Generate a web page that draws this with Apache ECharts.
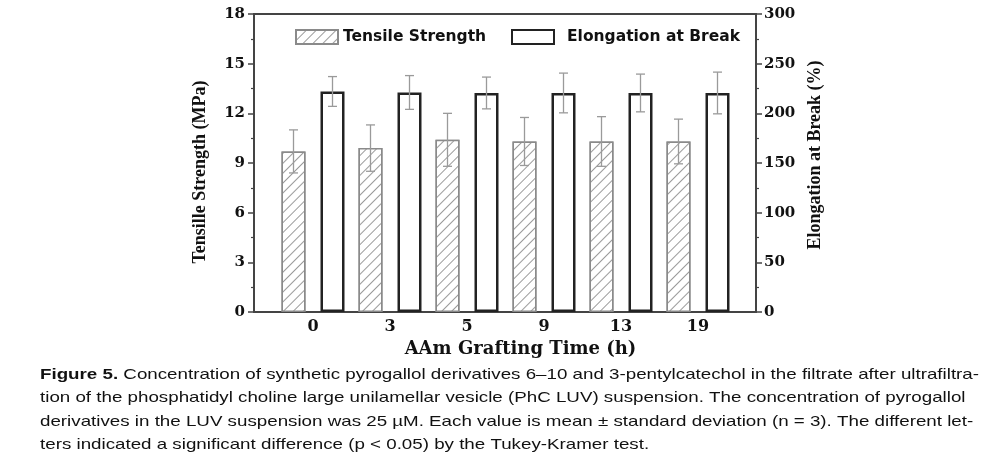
<!DOCTYPE html>
<html><head><meta charset="utf-8">
<script src="https://cdn.jsdelivr.net/npm/echarts@6/dist/echarts.min.js"></script>
<style>html,body{margin:0;padding:0;background:#fff}#c{width:999px;height:466px}</style>
</head><body><div id="c"></div>
<script>
const categories = ['0', '3', '5', '9', '13', '19'];
const tensileStrength = [9.7, 9.9, 10.4, 10.3, 10.3, 10.3];
const tensileError = [1.3, 1.4, 1.6, 1.45, 1.5, 1.35];
const elongation = [222, 221, 220.5, 220.5, 220.5, 220.5];
const elongationError = [15, 17, 16, 20, 19, 21];
const seriesNames = ['Tensile Strength', 'Elongation at Break'];
const captionLabel = 'Figure 5.';
const captionLines = [
  'Concentration of synthetic pyrogallol derivatives 6\u201310 and 3-pentylcatechol in the filtrate after ultrafiltra-',
  'tion of the phosphatidyl choline large unilamellar vesicle (PhC LUV) suspension. The concentration of pyrogallol',
  'derivatives in the LUV suspension was 25 \u00b5M. Each value is mean \u00b1 standard deviation (n = 3). The different let-',
  'ters indicated a significant difference (p < 0.05) by the Tukey-Kramer test.'
];

const serif = '"Liberation Serif", "Times New Roman", serif';
const wideSerif = '"DejaVu Serif", serif';
const wideSans = '"DejaVu Sans", sans-serif';
const sans = '"Liberation Sans", Arial, sans-serif';
const axisColor = '#444';

function errItem(offset) {
  return function (params, api) {
    const i = api.value(0), v = api.value(1), e = api.value(2);
    const c = api.coord([i, v]);
    const top = api.coord([i, v + e])[1];
    const bot = api.coord([i, v - e])[1];
    const x = c[0] + offset;
    const st = { stroke: '#9a9a9a', lineWidth: 1.3 };
    return {
      type: 'group',
      children: [
        { type: 'line', shape: { x1: x, y1: top, x2: x, y2: bot }, style: st },
        { type: 'line', shape: { x1: x - 4.5, y1: top, x2: x + 4.5, y2: top }, style: st },
        { type: 'line', shape: { x1: x - 4.5, y1: bot, x2: x + 4.5, y2: bot }, style: st }
      ]
    };
  };
}

const captionGraphics = captionLines.map(function (t, k) {
  return {
    type: 'text',
    x: 40, y: 375 + k * 23.2,
    scaleX: 1.25, scaleY: 1,
    silent: true,
    style: {
      text: k === 0 ? '{b|' + captionLabel + '} ' + t : t,
      fontFamily: sans, fontSize: 15, fill: '#111',
      align: 'left', verticalAlign: 'middle',
      rich: { b: { fontWeight: 'bold', fontSize: 15, fontFamily: sans, fill: '#111' } }
    }
  };
});

const chart = echarts.init(document.getElementById('c'), null, { renderer: 'canvas' });

const legendBase = {
  padding: 0, icon: 'rect', top: 29,
  itemWidth: 42, itemHeight: 14,
  textStyle: { fontFamily: wideSans, fontWeight: 'bold', fontSize: 15.5, color: '#111' }
};

chart.setOption({
  animation: false,
  backgroundColor: '#fff',
  grid: [
    { left: 254, top: 14, width: 502, height: 298, show: true, borderColor: axisColor, borderWidth: 2, backgroundColor: 'transparent' },
    { left: 274.5, top: 14, width: 462, height: 298 }
  ],
  legend: [
    Object.assign({}, legendBase, { data: [seriesNames[0]], left: 295 }),
    Object.assign({}, legendBase, { data: [seriesNames[1]], left: 511, itemGap: 0,
      textStyle: Object.assign({}, legendBase.textStyle, { padding: [0, 0, 0, 8] }) })
  ],
  xAxis: [
    { gridIndex: 0, type: 'value', min: 0, max: 1, show: false },
    {
      gridIndex: 1, type: 'category', data: categories,
      axisLine: { show: false }, axisTick: { show: false }, splitLine: { show: false },
      axisLabel: { margin: 7, fontFamily: wideSerif, fontWeight: 'bold', fontSize: 16, color: '#111' },
      name: 'AAm Grafting Time (h)', nameLocation: 'middle', nameGap: 27,
      nameTextStyle: { fontFamily: wideSerif, fontWeight: 'bold', fontSize: 18, color: '#111', padding: [0, 0, 0, 30] }
    }
  ],
  yAxis: [
    {
      gridIndex: 0, type: 'value', position: 'left', min: 0, max: 18, interval: 3,
      axisLine: { show: true, lineStyle: { color: axisColor, width: 2 } },
      axisTick: { show: true, length: 6, lineStyle: { color: axisColor, width: 1.5 } },
      minorTick: { show: true, splitNumber: 2, length: 3, lineStyle: { color: axisColor, width: 1.2 } },
      splitLine: { show: false },
      axisLabel: { margin: 9, fontFamily: wideSerif, fontWeight: 'bold', fontSize: 15, color: '#111' },
      name: 'Tensille Strength (MPa)', nameLocation: 'middle', nameRotate: 90, nameGap: 45,
      nameTextStyle: { fontFamily: serif, fontWeight: 'bold', fontSize: 18, color: '#111', padding: [0, 18, 0, 0] }
    },
    {
      gridIndex: 0, type: 'value', position: 'right', min: 0, max: 300, interval: 50,
      axisLine: { show: true, lineStyle: { color: axisColor, width: 2 } },
      axisTick: { show: true, length: 6, lineStyle: { color: axisColor, width: 1.5 } },
      minorTick: { show: true, splitNumber: 2, length: 3, lineStyle: { color: axisColor, width: 1.2 } },
      splitLine: { show: false },
      axisLabel: { margin: 8, fontFamily: wideSerif, fontWeight: 'bold', fontSize: 15, color: '#111' },
      name: 'Elongation at Break (%)', nameLocation: 'middle', nameRotate: 90, nameGap: 40,
      nameTextStyle: { fontFamily: serif, fontWeight: 'bold', fontSize: 18, color: '#111', padding: [0, 0, 0, 16] }
    },
    { gridIndex: 1, type: 'value', min: 0, max: 18, show: false, splitLine: { show: false } },
    { gridIndex: 1, type: 'value', min: 0, max: 300, show: false, splitLine: { show: false } }
  ],
  series: [
    {
      name: seriesNames[0], type: 'bar', xAxisIndex: 1, yAxisIndex: 2,
      data: tensileStrength, barWidth: 24, barGap: '62.5%',
      itemStyle: {
        color: '#fff', borderColor: '#8a8a8a', borderWidth: 1.5,
        decal: { symbol: 'rect', symbolSize: 1, dashArrayX: [1, 0], dashArrayY: [1, 6], rotation: -Math.PI / 4, color: '#9a9a9a', backgroundColor: '#fff' }
      }
    },
    {
      name: seriesNames[1], type: 'bar', xAxisIndex: 1, yAxisIndex: 3,
      data: elongation, barWidth: 24,
      itemStyle: { color: '#fff', borderColor: '#222', borderWidth: 2.5 }
    },
    {
      type: 'custom', xAxisIndex: 1, yAxisIndex: 2, z: 5,
      data: tensileStrength.map(function (v, i) { return [i, v, tensileError[i]]; }),
      encode: { x: 0, y: 1 },
      renderItem: errItem(-19.5)
    },
    {
      type: 'custom', xAxisIndex: 1, yAxisIndex: 3, z: 5,
      data: elongation.map(function (v, i) { return [i, v, elongationError[i]]; }),
      encode: { x: 0, y: 1 },
      renderItem: errItem(19.5)
    }
  ],
  graphic: captionGraphics
});
</script>
</body></html>
